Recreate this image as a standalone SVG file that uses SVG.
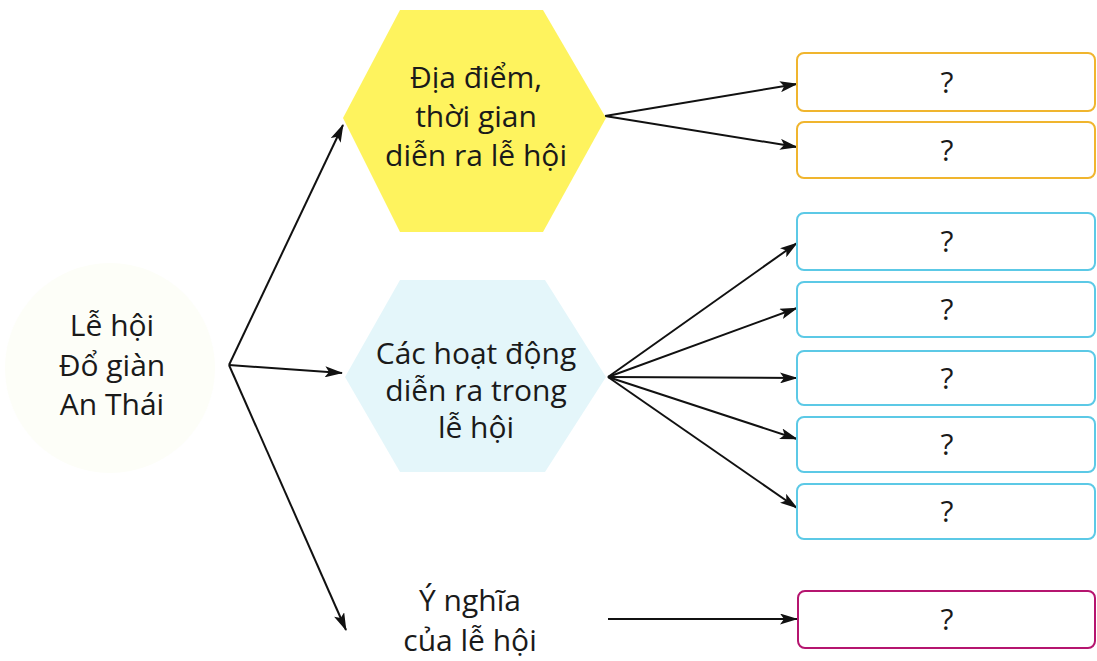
<svg xmlns="http://www.w3.org/2000/svg" width="1097" height="661" viewBox="0 0 1097 661">
<style>
text{font-family:"Open Sans","Noto Sans","Liberation Sans",sans-serif;fill:#1a1a1a;text-anchor:middle}
.lbl{font-size:30px}
.q{font-size:30px}
.box{fill:#fff;stroke-width:2}
.y{stroke:#f0b52e}
.b{stroke:#5cc9e6}
.m{stroke:#b5156f}
.c{fill:none;stroke:#111;stroke-width:2}
</style>
<defs>
<marker id="ah" viewBox="0 0 18 11" refX="17" refY="5.5" markerWidth="18" markerHeight="11" markerUnits="userSpaceOnUse" orient="auto">
<path d="M0,0 L18,5.5 L0,11 L4,5.5 z" fill="#111"/>
</marker>
</defs>
<rect width="1097" height="661" fill="#fff"/>
<g id="connectors">
<line class="c" x1="229" y1="365" x2="343" y2="125" marker-end="url(#ah)"/>
<line class="c" x1="229" y1="365" x2="342" y2="373" marker-end="url(#ah)"/>
<line class="c" x1="229" y1="365" x2="346" y2="630" marker-end="url(#ah)"/>
<line class="c" x1="605" y1="116" x2="797" y2="84" marker-end="url(#ah)"/>
<line class="c" x1="605" y1="116" x2="797" y2="147" marker-end="url(#ah)"/>
<line class="c" x1="608" y1="377" x2="797" y2="243" marker-end="url(#ah)"/>
<line class="c" x1="608" y1="377" x2="797" y2="308" marker-end="url(#ah)"/>
<line class="c" x1="608" y1="377" x2="797" y2="378" marker-end="url(#ah)"/>
<line class="c" x1="608" y1="377" x2="797" y2="439" marker-end="url(#ah)"/>
<line class="c" x1="608" y1="377" x2="797" y2="508" marker-end="url(#ah)"/>
<line class="c" x1="608" y1="619" x2="797" y2="619" marker-end="url(#ah)"/>
</g>
<g id="root">
<circle cx="110" cy="368" r="105" fill="#fdfef8"/>
<text class="lbl" x="112" y="336">Lễ hội</text>
<text class="lbl" x="112" y="376">Đổ giàn</text>
<text class="lbl" x="112" y="415">An Thái</text>
</g>
<g id="place-time">
<polygon points="400,10 543,10 606,118 543,232 400,232 343,118" fill="#fef35e"/>
<text class="lbl" x="476" y="88">Địa điểm,</text>
<text class="lbl" x="476" y="127">thời gian</text>
<text class="lbl" x="476" y="166">diễn ra lễ hội</text>
</g>
<g id="activities">
<polygon points="400,280 545,280 606,377 545,472 400,472 345,377" fill="#e4f6fa"/>
<text class="lbl" x="476" y="364">Các hoạt động</text>
<text class="lbl" x="476" y="401">diễn ra trong</text>
<text class="lbl" x="476" y="438">lễ hội</text>
</g>
<g id="meaning">
<text class="lbl" x="470" y="611">Ý nghĩa</text>
<text class="lbl" x="470" y="651">của lễ hội</text>
</g>
<g id="y1"><rect class="box y" x="797" y="53" width="298" height="58" rx="7"/><text class="q" x="947" y="93">?</text></g>
<g id="y2"><rect class="box y" x="797" y="122" width="298" height="56" rx="7"/><text class="q" x="947" y="161">?</text></g>
<g id="b1"><rect class="box b" x="797" y="213" width="298" height="57" rx="7"/><text class="q" x="947" y="252">?</text></g>
<g id="b2"><rect class="box b" x="797" y="282" width="298" height="55" rx="7"/><text class="q" x="947" y="320">?</text></g>
<g id="b3"><rect class="box b" x="797" y="351" width="298" height="54" rx="7"/><text class="q" x="947" y="389">?</text></g>
<g id="b4"><rect class="box b" x="797" y="417" width="298" height="55" rx="7"/><text class="q" x="947" y="455">?</text></g>
<g id="b5"><rect class="box b" x="797" y="484" width="298" height="55" rx="7"/><text class="q" x="947" y="522">?</text></g>
<g id="m1"><rect class="box m" x="798" y="591" width="297" height="57" rx="7"/><text class="q" x="947" y="630">?</text></g>
</svg>
